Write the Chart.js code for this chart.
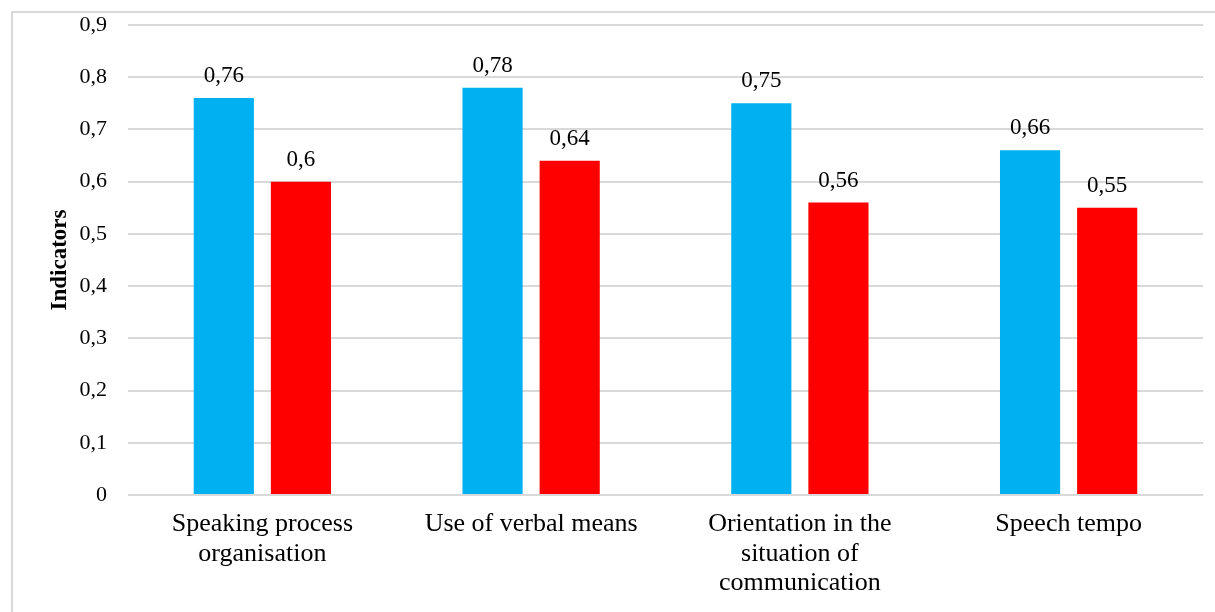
<!DOCTYPE html>
<html>
<head>
<meta charset="utf-8">
<script src="https://cdn.jsdelivr.net/npm/chart.js@4/dist/chart.umd.min.js"></script>
<style>
  html, body { margin: 0; padding: 0; background: #fff; overflow: hidden; }
  #wrap { position: relative; width: 1215px; height: 612px; }
  #frame { position: absolute; left: 11px; top: 11px; width: 1260px; height: 660px;
           border: 2px solid #d9d9d9; box-sizing: border-box; }
  #c { position: absolute; left: 0; top: 0; }
</style>
</head>
<body>
<div id="wrap">
  <div id="frame"></div>
  <canvas id="c" width="1215" height="612"></canvas>
</div>
<script>
// Indicator categories (multi-line labels under each bar pair)
const categories = [
  ["Speaking process", "organisation"],
  ["Use of verbal means"],
  ["Orientation in the", "situation of", "communication"],
  ["Speech tempo"]
];
// Indicator values per group
const seriesBlue = [0.76, 0.78, 0.75, 0.66];
const seriesRed  = [0.6, 0.64, 0.56, 0.55];
// Y axis range and step
const yMin = 0;
const yMax = 0.9;
const yStep = 0.1;

const SERIF = "'Liberation Serif', 'Times New Roman', serif";

const fmt = v => {
  const r = Math.round(v * 100) / 100;
  return String(r).replace('.', ',');
};

// Draws each bar's value above it, using the bar element's position from the scales
const valueLabels = {
  id: 'valueLabels',
  afterDatasetsDraw(chart) {
    const ctx = chart.ctx;
    ctx.save();
    ctx.font = '23px ' + SERIF;
    ctx.fillStyle = '#000';
    ctx.textAlign = 'center';
    ctx.textBaseline = 'alphabetic';
    chart.data.datasets.forEach((ds, i) => {
      const meta = chart.getDatasetMeta(i);
      meta.data.forEach((el, j) => {
        ctx.fillText(fmt(ds.data[j]), el.x, el.y - 16);
      });
    });
    ctx.restore();
  }
};

new Chart(document.getElementById('c'), {
  type: 'bar',
  data: {
    labels: categories,
    datasets: [
      { label: 'Series 1', data: seriesBlue, backgroundColor: '#00B0F0',
        categoryPercentage: 0.574, barPercentage: 0.78 },
      { label: 'Series 2', data: seriesRed, backgroundColor: '#FF0000',
        categoryPercentage: 0.574, barPercentage: 0.78 }
    ]
  },
  options: {
    responsive: false,
    animation: false,
    layout: { padding: { top: 25, right: 12, left: 0, bottom: 0 } },
    plugins: {
      legend: { display: false },
      tooltip: { enabled: false }
    },
    scales: {
      x: {
        grid: { display: false, drawTicks: false },
        border: { display: false },
        ticks: {
          color: '#000',
          padding: 15,
          maxRotation: 0,
          autoSkip: false,
          font: { family: SERIF, size: 26, lineHeight: 1.12 }
        },
        afterFit(scale) { scale.height = 117; }
      },
      y: {
        min: yMin,
        max: yMax,
        grid: { color: '#d9d9d9', lineWidth: 2, drawTicks: false },
        border: { display: false },
        ticks: {
          stepSize: yStep,
          color: '#000',
          padding: 21,
          font: { family: SERIF, size: 22 },
          callback: v => fmt(v)
        },
        title: {
          display: true,
          text: 'Indicators',
          color: '#000',
          padding: { top: 46, bottom: 0 },
          font: { family: SERIF, size: 23, weight: 'bold' }
        },
        afterFit(scale) {
          scale.width = 128;
          scale.paddingTop = 0;
          scale.paddingBottom = 0;
        }
      }
    }
  },
  plugins: [valueLabels]
});
</script>
</body>
</html>
